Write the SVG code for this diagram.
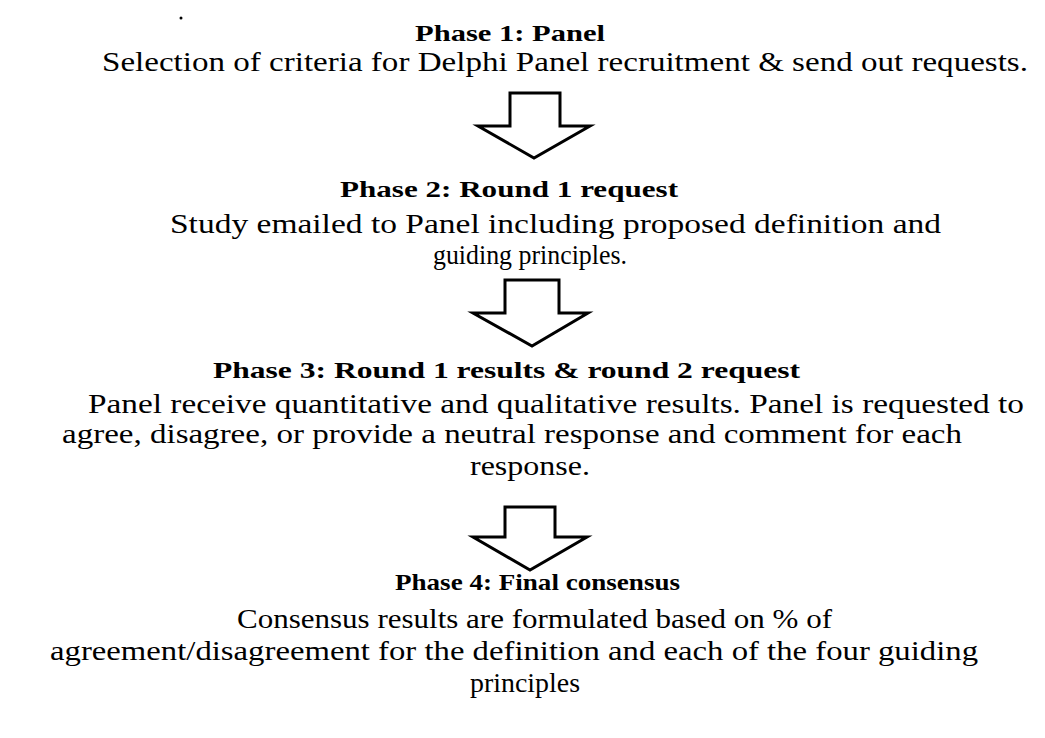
<svg xmlns="http://www.w3.org/2000/svg" width="1045" height="738" viewBox="0 0 1045 738">
<style>
.h{font-family:"Liberation Serif","DejaVu Serif",serif;font-weight:bold;font-size:24px;fill:#000}
.b{font-family:"Liberation Serif","DejaVu Serif",serif;font-size:27px;fill:#000}
.arr{fill:#fff;stroke:#000;stroke-width:3;stroke-linejoin:miter}
</style>
<rect width="1045" height="738" fill="#fff"/>
<circle cx="181" cy="18" r="1.5" fill="#000"/>
<g id="phase1">
<text class="h" x="415" y="41" textLength="190" lengthAdjust="spacingAndGlyphs">Phase 1: Panel</text>
<text class="b" x="102" y="71" textLength="926" lengthAdjust="spacingAndGlyphs">Selection of criteria for Delphi Panel recruitment &amp; send out requests.</text>
</g>
<g id="phase2">
<text class="h" x="340" y="197" textLength="338" lengthAdjust="spacingAndGlyphs">Phase 2: Round 1 request</text>
<text class="b" x="170" y="233" textLength="771" lengthAdjust="spacingAndGlyphs">Study emailed to Panel including proposed definition and</text>
<text class="b" x="433" y="264" textLength="194" lengthAdjust="spacingAndGlyphs">guiding principles.</text>
</g>
<g id="phase3">
<text class="h" x="213" y="378" textLength="587" lengthAdjust="spacingAndGlyphs">Phase 3: Round 1 results &amp; round 2 request</text>
<text class="b" x="88" y="413" textLength="936" lengthAdjust="spacingAndGlyphs">Panel receive quantitative and qualitative results. Panel is requested to</text>
<text class="b" x="62" y="443" textLength="900" lengthAdjust="spacingAndGlyphs">agree, disagree, or provide a neutral response and comment for each</text>
<text class="b" x="470" y="475" textLength="120" lengthAdjust="spacingAndGlyphs">response.</text>
</g>
<g id="phase4">
<text class="h" x="395" y="590" textLength="285" lengthAdjust="spacingAndGlyphs">Phase 4: Final consensus</text>
<text class="b" x="237" y="628" textLength="595" lengthAdjust="spacingAndGlyphs">Consensus results are formulated based on % of</text>
<text class="b" x="50" y="660" textLength="928" lengthAdjust="spacingAndGlyphs">agreement/disagreement for the definition and each of the four guiding</text>
<text class="b" x="470" y="692" textLength="110" lengthAdjust="spacingAndGlyphs">principles</text>
</g>
<g id="connectors">
<polygon class="arr" points="510,93 560,93 560,126 590,126 534,158 478,126 510,126"/>
<polygon class="arr" points="505,280 559,280 559,313 588,313 532,346 473,313 505,313"/>
<polygon class="arr" points="505,507 555,507 555,537 587,537 530,570 473,537 505,537"/>
</g>
</svg>
